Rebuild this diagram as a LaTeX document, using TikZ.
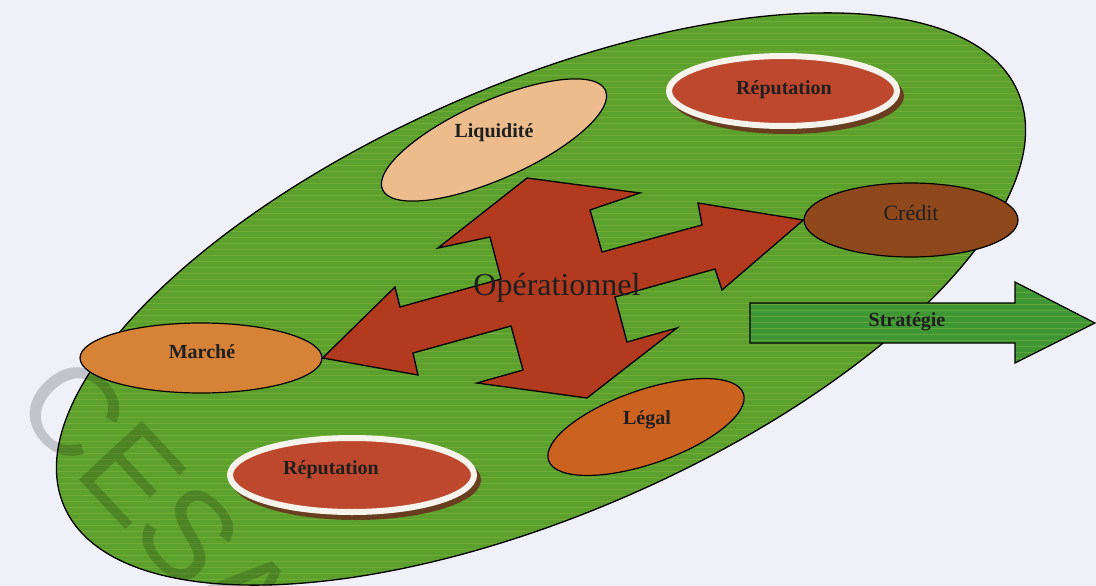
\documentclass[tikz,border=0pt]{standalone}
\usepackage{fontspec}
\setmainfont{Liberation Serif}
\newfontfamily\wmfont{Liberation Sans}
\usetikzlibrary{shapes.geometric}
\definecolor{bg}{RGB}{239,240,248}
\definecolor{leaf}{RGB}{92,160,46}
\definecolor{leafstripe}{RGB}{170,200,70}
\definecolor{crossred}{RGB}{178,58,30}
\definecolor{repred}{RGB}{190,72,45}
\definecolor{repshadow}{RGB}{105,62,32}
\definecolor{ringwhite}{RGB}{246,242,236}
\definecolor{creditbrown}{RGB}{142,72,28}
\definecolor{marcheorange}{RGB}{214,130,55}
\definecolor{legalorange}{RGB}{204,98,32}
\definecolor{liqtan}{RGB}{236,188,140}
\definecolor{stratgreen}{RGB}{62,150,52}
\begin{document}
\begin{tikzpicture}[x=1pt,y=-1pt,
  lbl/.style={font=\bfseries\fontsize{20}{22}\selectfont, text=black!88, inner sep=0pt},
  lblreg/.style={font=\fontsize{22}{24}\selectfont, text=black!88, inner sep=0pt},
  riskellipse/.style={ellipse, draw=black, line width=1.2pt, inner sep=0pt},
  repring/.style={ellipse, draw=ringwhite, line width=6pt, fill=repred, inner sep=0pt},
  repshade/.style={ellipse, fill=repshadow, inner sep=0pt}
]
\useasboundingbox (0,0) rectangle (1096,586);
\fill[bg] (0,0) rectangle (1096,586);

% big green ellipse
\begin{scope}
  \clip[rotate around={23.5:(541,299)}] (541,299) ellipse [x radius=520, y radius=215];
  \fill[leaf] (0,0) rectangle (1096,586);
  \foreach \yy in {3,9,...,600} \draw[leafstripe, opacity=0.3, line width=0.8pt] (0,\yy) -- (1096,\yy);
\end{scope}
\draw[line width=1.3pt, rotate around={23.5:(541,299)}] (541,299) ellipse [x radius=520, y radius=215];

% watermark
\node[font=\wmfont\fontsize{125}{125}\selectfont, text=black, text opacity=0.18, rotate=-47] (wm) at (158,502) {CESA};

% risk ellipses
\node[riskellipse, fill=liqtan, rotate=24, minimum width=244pt, minimum height=78pt] (liqE) at (494,140) {};
\node[lbl] (liq) at (494,133) {Liquidité};

\node[repshade, minimum width=234pt, minimum height=76pt] (rep1S) at (787,96) {};
\node[repring, minimum width=228pt, minimum height=70pt] (rep1E) at (783,91) {};
\node[lbl] (rep1) at (784,90) {Réputation};

\node[riskellipse, fill=creditbrown, minimum width=214pt, minimum height=74pt] (creditE) at (911,220) {};
\node[lblreg] (credit) at (911,213) {Crédit};

\node[riskellipse, fill=marcheorange, minimum width=242pt, minimum height=70pt] (marcheE) at (201,358) {};
\node[lbl] (marche) at (202,352) {Marché};

\node[riskellipse, fill=legalorange, rotate=19, minimum width=206pt, minimum height=74pt] (legalE) at (646,427) {};
\node[lbl] (legal) at (647,420) {Légal};

\node[repshade, minimum width=250pt, minimum height=80pt] (rep2S) at (356,480) {};
\node[repring, minimum width=244pt, minimum height=74pt] (rep2E) at (352,475) {};
\node[lbl] (rep2) at (331,470) {Réputation};

% four-headed arrow (Opérationnel)
\draw[fill=crossred, line width=1.3pt, line join=miter]
  (527,178) -- (640,193) -- (590,210) -- (602,252) -- (702,225) -- (698,203)
  -- (creditE.west) -- (722,290) -- (715,269) -- (615,297) -- (627,342) -- (677,328)
  -- (587,398) -- (477,383) -- (523,370) -- (511,326) -- (413,353) -- (418,375)
  -- (marcheE.east) -- (395,287) -- (400,307) -- (501,279) -- (490,237) -- (438,248) -- cycle;
\node[font=\fontsize{32}{34}\selectfont, text=black!88, inner sep=0pt] (oper) at (557,288) {Opérationnel};

% Stratégie arrow
\begin{scope}
  \clip (750,303) -- (1015,303) -- (1015,282) -- (1095,323) -- (1015,363) -- (1015,343) -- (750,343) -- cycle;
  \fill[stratgreen] (740,270) rectangle (1100,370);
  \foreach \yy in {286,292,...,362} \draw[leafstripe, opacity=0.35, line width=0.8pt] (740,\yy) -- (1100,\yy);
\end{scope}
\draw[line width=1.2pt, line join=miter] (750,303) -- (1015,303) -- (1015,282) -- (1095,323) -- (1015,363) -- (1015,343) -- (750,343) -- cycle;
\node[lbl] (strat) at (907,322) {Stratégie};
\end{tikzpicture}
\end{document}
